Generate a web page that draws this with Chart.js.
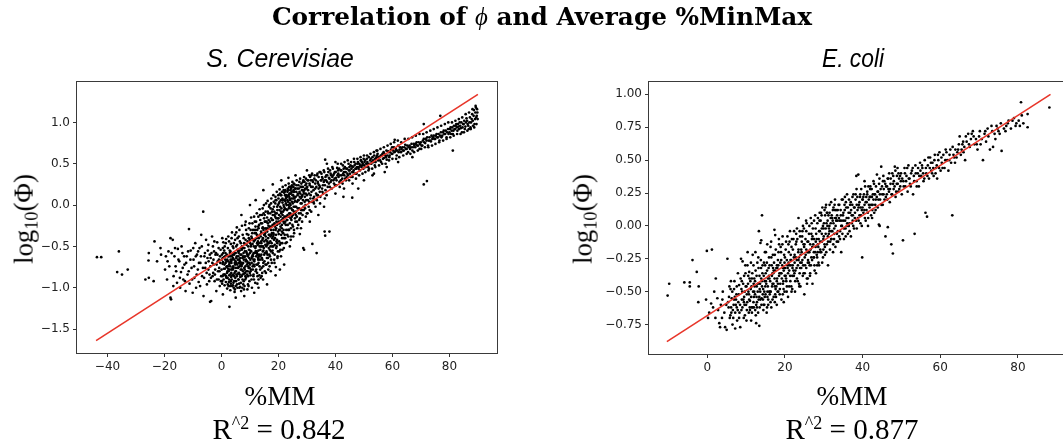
<!DOCTYPE html>
<html><head><meta charset="utf-8">
<script src="https://cdn.jsdelivr.net/npm/chart.js@4.4.1/dist/chart.umd.min.js"></script>
<style>
html,body{margin:0;padding:0;background:#fff;width:1063px;height:445px;overflow:hidden;position:relative}
.cv{position:absolute;top:0}
.t{position:absolute;white-space:nowrap;line-height:1.15;color:#000;transform:translate(-50%,-50%)}
.serif{font-family:"Liberation Serif","Times New Roman",serif}
.sub{font-family:"Liberation Sans Narrow","Liberation Sans",sans-serif;font-style:italic}
sup{font-size:62%;vertical-align:0.55em;line-height:0}
sub{font-size:68%;vertical-align:-0.3em;line-height:0}
</style></head><body>
<canvas id="c1" class="cv" width="530" height="445" style="left:0px"></canvas>
<canvas id="c2" class="cv" width="530" height="445" style="left:560px"></canvas>

<div class="t" style="left:542px;top:17px;font-family:'DejaVu Serif',serif;font-weight:bold" data-w="540">Correlation of <span style="font-family:'Liberation Serif',serif;font-weight:normal;font-style:italic">ϕ</span> and Average %MinMax</div>
<div class="t sub" style="left:280px;top:58px" data-w="148" data-fs="25">S. Cerevisiae</div>
<div class="t sub" style="left:853px;top:58px" data-w="62" data-fs="25">E. coli</div>
<div class="t serif" style="left:24px;top:219px" data-w="90" data-rot="1">log<sub>10</sub>(Φ)</div>
<div class="t serif" style="left:583px;top:219px" data-w="90" data-rot="1">log<sub>10</sub>(Φ)</div>
<div class="t serif" style="left:280px;top:397px" data-w="71">%MM</div>
<div class="t serif" style="left:852px;top:397px" data-w="71">%MM</div>
<div class="t serif" style="left:279px;top:430px" data-w="133">R<sup>^2</sup> = 0.842</div>
<div class="t serif" style="left:852px;top:430px" data-w="133">R<sup>^2</sup> = 0.877</div>

<script>
// ---------- DATA ----------
const yeastXTicks = [-40, -20, 0, 20, 40, 60, 80];
const yeastYTicks = [-1.5, -1.0, -0.5, 0.0, 0.5, 1.0];
const ecoliXTicks = [0, 20, 40, 60, 80];
const ecoliYTicks = [-0.75, -0.5, -0.25, 0.0, 0.25, 0.5, 0.75, 1.0];

const yeastFit = [[-44, -1.64], [90, 1.34]];
const ecoliFit = [[-10.4, -0.88], [88.4, 1.0]];

const yeastPoints = [
[-43.7,-0.63],[-42.2,-0.63],[-36,-0.56],[-36.6,-0.81],[-34.9,-0.84],[-32.9,-0.78],
[-26.7,-0.9],[-25.5,-0.88],[-23.8,-0.92],[-25.5,-0.58],[-25.6,-0.67],[-23.5,-0.44],
[-22.6,-0.68],[-21.2,-0.6],[-21.4,-0.52],[-19.8,-0.78],[-18.9,-0.68],[-18.6,-0.56],
[-17.9,-0.4],[-17.1,-0.42],[-17.9,-1.12],[-17.7,-1.14],[-16.8,-0.86],[-16.5,-0.62],
[-16.1,-0.74],[-15.6,-0.94],[-15.3,-0.53],[-14.8,-0.68],[-14.5,-1.0],[-14.2,-0.81],
[-13.7,-0.58],[-13.4,-0.9],[-13,-0.72],[-12.6,-1.04],[-12.2,-0.62],[-11.9,-0.84],
[-11.4,-0.29],[-11.2,-0.95],[-10.8,-0.55],[-10.5,-0.76],[-10.1,-1.06],[-9.8,-0.66],
[-9.5,-0.88],[-9.2,-0.46],[-8.9,-1.0],[-8.6,-0.6],[-8.3,-0.78],[-8,-0.93],[-7.7,-0.52],
[-7.4,-0.7],[-7.1,-0.36],[-6.8,-0.86],[-6.4,-0.08],[-6.3,-1.1],[-6,-0.62],[-5.7,-0.76],
[-5.4,-0.42],[-5.1,-0.96],[-4.8,-0.55],[-4.5,-0.68],[-4.2,-0.84],[-4,-1.17],[-3.6,-1.16],
[-3.3,-0.38],[-3,-0.5],[-2.7,-0.72],[-2.4,-0.92],[-2.1,-0.6],[-1.8,-1.04],[-1.5,-0.45],
[-1.2,-0.8],[-0.9,-0.66],[-0.6,-0.98],[-0.3,-0.54],[-2.9,-0.82],[-1.0,-0.9],[-3.8,-0.64],
[0.2,-0.92],[0.4,-0.71],[0.5,-0.52],[0.7,-0.84],[0.9,-0.63],[0.3,-0.4],[1.1,-0.97],[1.2,-0.77],[1.4,-0.58],[1.5,-0.46],[1.7,-0.88],[1.8,-0.68],
[2.0,-1.01],[2.1,-0.8],[2.3,-0.62],[2.4,-0.38],[2.6,-0.93],[2.7,-0.72],[2.9,-0.55],[3.0,-0.84],[3.1,-1.03],[3.2,-0.66],[3.3,-0.47],[3.5,-0.78],[3.6,-0.9],[3.7,-0.33],[3.9,-0.6],
[4.0,-0.97],[4.1,-0.74],[4.2,-0.52],[4.4,-0.86],[4.5,-0.66],[4.6,-1.05],[4.8,-0.42],[4.9,-0.8],[5.0,-0.58],[5.1,-0.92],[5.3,-0.7],[5.4,-0.27],[5.5,-0.48],[5.6,-1.0],[5.8,-0.83],[5.9,-0.62],
[6.0,-0.75],[6.1,-0.38],[6.2,-0.95],[6.4,-0.55],[6.5,-0.68],[6.6,-0.87],[6.8,-0.46],[6.9,-1.04],[7.0,-0.6],[7.1,-0.78],[7.2,-0.25],[7.4,-0.9],[7.5,-0.52],[7.6,-0.7],[7.8,-0.4],[7.9,-0.83],
[8.0,-0.63],[8.1,-0.98],[8.2,-0.47],[8.4,-0.74],[8.5,-0.2],[8.6,-0.88],[8.7,-0.56],[8.9,-0.35],[9.0,-0.68],[9.1,-1.02],[9.2,-0.8],[9.4,-0.5],[9.5,-0.6],[9.6,-0.28],[9.8,-0.92],[9.9,-0.42],
[10.0,-0.72],[10.1,-0.55],[10.2,-0.85],[10.4,-0.15],[10.5,-0.38],[10.6,-0.64],[10.7,-1.0],[10.9,-0.47],[11.0,-0.78],[11.1,-0.3],[11.3,-0.58],[11.4,-0.9],[11.5,-0.68],[11.7,-0.2],[11.8,-0.42],[11.9,-0.52],
[12.0,-0.8],[12.1,-0.34],[12.2,-0.62],[12.4,-0.1],[12.5,-0.46],[12.6,-0.95],[12.7,-0.72],[12.9,-0.26],[13.0,-0.55],[13.1,-0.4],[13.3,-0.85],[13.4,-0.05],[13.5,-0.66],[13.6,-0.18],[13.8,-0.5],[13.9,-0.32],
[14.0,-0.6],[14.1,-0.76],[14.2,-0.12],[14.4,-0.42],[14.5,-0.27],[14.6,-0.9],[14.7,-0.55],[14.9,0.0],[15.0,-0.36],[15.1,-0.68],[15.2,-0.2],[15.4,-0.48],[15.5,-0.08],[15.6,-0.82],[15.8,-0.3],[15.9,-0.58],
[16.0,-0.15],[16.1,-0.44],[16.2,0.05],[16.4,-0.7],[16.5,-0.25],[16.6,-0.52],[16.7,-0.02],[16.9,-0.36],[17.0,-0.62],[17.1,-0.1],[17.3,-0.8],[17.4,-0.3],[17.5,0.08],[17.6,-0.46],[17.8,-0.18],[17.9,-0.55],
[18.0,-0.05],[18.1,-0.38],[18.2,0.12],[18.4,-0.24],[18.5,-0.66],[18.6,-0.12],[18.7,-0.48],[18.9,0.02],[19.0,-0.3],[19.1,-0.75],[19.2,-0.16],[19.4,0.16],[19.5,-0.42],[19.6,-0.06],[19.8,-0.56],[19.9,-0.22],
[20.0,0.08],[20.1,-0.35],[20.2,-0.12],[20.4,0.19],[20.5,-0.48],[20.6,-0.02],[20.7,-0.26],[20.9,-0.62],[21.0,0.12],[21.1,-0.18],[21.3,-0.4],[21.4,0.03],[21.5,0.22],[21.6,-0.08],[21.8,-0.3],[21.9,-0.52],
[22.0,0.15],[22.1,-0.14],[22.2,-0.36],[22.4,0.05],[22.5,0.24],[22.6,-0.24],[22.7,-0.05],[22.9,-0.45],[23.0,0.1],[23.1,-0.18],[23.3,0.2],[23.4,-0.3],[23.5,0.0],[23.6,0.26],[23.8,-0.1],[23.9,0.14],
[24.0,-0.22],[24.1,0.06],[24.2,0.22],[24.4,-0.38],[24.5,-0.04],[24.6,0.16],[24.7,-0.14],[24.9,0.28],[25.0,0.02],[25.1,-0.26],[25.3,0.18],[25.4,-0.08],[25.5,0.1],[25.6,0.25],[25.8,-0.16],[25.9,0.05],
[26.0,0.2],[26.2,-0.02],[26.4,0.3],[26.5,-0.2],[26.7,0.12],[26.9,0.06],[27.0,0.24],[27.2,-0.1],[27.4,0.16],[27.6,0.32],[27.8,0.02],[27.9,-0.28],
[28.0,0.22],[28.2,0.1],[28.4,-0.06],[28.6,0.28],[28.8,0.16],[29.0,0.34],[29.2,0.04],[29.4,0.2],[29.6,-0.14],[29.8,0.26],
[30.0,0.12],[30.2,0.3],[30.4,0.18],[30.6,-0.02],[30.8,0.36],[31.0,0.24],[31.2,0.08],[31.4,0.3],[31.6,0.16],[31.8,0.38],
[32.0,0.22],[32.3,0.04],[32.6,0.32],[32.9,0.26],[33.2,0.14],[33.5,0.36],[33.8,0.28],[34.1,0.2],[34.4,0.4],[34.7,0.1],[35.0,0.3],[35.3,0.34],
[35.6,0.24],[35.9,0.42],[36.2,0.3],[36.5,0.18],[36.8,0.36],[37.1,0.28],[37.4,0.44],[37.7,0.33],[38.0,0.22],[38.3,0.38],[38.6,0.3],[38.9,0.46],[39.2,0.36],[39.5,0.26],[39.8,0.4],
[40.2,0.33],[40.6,0.45],[41.0,0.38],[41.4,0.28],[41.8,0.42],[42.2,0.36],[42.6,0.48],[43.0,0.4],[43.4,0.32],[43.8,0.44],[44.2,0.38],[44.6,0.5],
[45.0,0.42],[45.4,0.34],[45.8,0.47],[46.2,0.4],[46.6,0.52],[47.0,0.44],[47.4,0.38],[47.8,0.5],[48.2,0.46],[48.6,0.42],[49.0,0.54],[49.4,0.48],[49.8,0.44],
[50.2,0.52],[50.6,0.46],[51.0,0.56],[51.4,0.5],[51.8,0.44],[52.2,0.54],[52.6,0.5],[53.0,0.58],[53.4,0.52],[53.8,0.48],[54.2,0.56],[54.6,0.6],
[55.0,0.54],[55.5,0.58],[56.0,0.52],[56.5,0.62],[57.0,0.57],[57.5,0.6],[58.0,0.55],[58.5,0.65],[59.0,0.6],[59.5,0.67],
[60.0,0.62],[60.5,0.7],[61.0,0.65],[61.5,0.6],[62.0,0.72],[62.5,0.67],[63.0,0.64],[63.5,0.7],[64.0,0.66],[64.5,0.73],
[65.0,0.68],[65.5,0.64],[66.0,0.72],[66.5,0.7],[67.0,0.66],[67.5,0.74],[68.0,0.7],[68.5,0.76],[69.0,0.72],[69.5,0.68],
[70.0,0.76],[70.5,0.72],[71.0,0.8],[71.5,0.75],[72.0,0.78],[72.5,0.72],[73.0,0.82],[73.5,0.77],[74.0,0.8],[74.5,0.84],
[75.0,0.8],[75.5,0.86],[76.0,0.82],[76.5,0.78],[77.0,0.88],[77.5,0.84],[78.0,0.9],[78.5,0.86],[79.0,0.82],[79.5,0.92],
[80.0,0.88],[80.4,0.94],[80.8,0.9],[81.2,0.86],[81.6,0.96],[82.0,0.92],[82.4,0.98],[82.8,0.9],[83.2,0.95],[83.6,1.0],[84.0,0.93],[84.4,0.88],[84.8,0.98],
[85.2,1.02],[85.6,0.95],[86.0,1.05],[86.4,0.98],[86.8,0.92],[87.2,1.06],[87.6,1.0],[88.0,1.1],[88.3,0.96],[88.6,1.15],[89.0,1.04],[89.3,1.18],[89.6,1.08],[89.8,1.12],
[71,0.25],[72.1,0.29],[81.2,0.66],[71,0.98],[76.8,1.08],[36.2,-0.32],[37.9,-0.32],[36.4,-0.37],[31.9,-0.47],[29,-0.54],[33.4,-0.58],
[48,0.2],[42.8,0.1],[45.9,0.09],[57.3,0.4],[53,0.36],[60.8,0.79],[54.4,0.66],[36.4,0.55],[37,0.5],[40,0.52],[14.7,0.18],
[28.7,-0.52],[25.2,-0.38],[24,-0.5],[27.5,-0.35],[31,-0.2],[34,-0.12],[36,-0.02],[40,0.14],[43,0.2],[46,0.26],[50,0.3],
[53.5,0.38],[58,0.46],[62,0.52],[67,0.58],[2.8,-1.23],[0.5,-1.08],[5,-1.12],[8,-1.1],[11.5,-1.06],[13,-1.0],[16,-0.96],
[19,-0.85],[22,-0.72],[20.5,-0.78],[10,0.0],[7,-0.12],[12,0.06],[18,0.25],[21,0.3],[23.5,0.33],[26,0.36],[30,0.42]
];

const yeastDense = [
[0.05,-0.78],[0.15,-0.6],[0.35,-0.86],[0.55,-0.69],[0.65,-0.45],[0.85,-0.77],[0.95,-0.55],[0.25,-0.95],[0.75,-0.9],[0.45,-0.64],
[1.05,-0.72],[1.15,-0.5],[1.25,-0.84],[1.35,-0.66],[1.55,-0.93],[1.65,-0.41],[1.75,-0.75],[1.85,-0.6],[1.95,-0.82],[1.45,-0.7],
[2.05,-0.66],[2.15,-0.88],[2.25,-0.52],[2.35,-0.77],[2.45,-0.98],[2.55,-0.62],[2.65,-0.44],[2.75,-0.85],[2.85,-0.7],[2.95,-0.58],[2.5,-0.8],
[3.05,-0.74],[3.15,-0.56],[3.25,-0.92],[3.35,-0.68],[3.45,-0.82],[3.55,-0.4],[3.65,-0.62],[3.75,-0.98],[3.85,-0.76],[3.95,-0.5],[3.4,-0.87],
[4.05,-0.64],[4.15,-0.84],[4.25,-0.76],[4.35,-0.46],[4.45,-0.92],[4.55,-0.58],[4.65,-0.7],[4.75,-0.36],[4.85,-0.88],[4.95,-0.68],[4.3,-1.0],
[5.05,-0.76],[5.15,-0.5],[5.25,-0.84],[5.35,-0.62],[5.45,-0.96],[5.55,-0.72],[5.65,-0.4],[5.75,-0.66],[5.85,-0.56],[5.95,-0.9],[5.2,-0.33],
[6.05,-0.58],[6.15,-0.82],[6.25,-0.66],[6.35,-0.74],[6.45,-0.44],[6.55,-0.99],[6.65,-0.6],[6.75,-0.78],[6.85,-0.52],[6.95,-0.7],[6.3,-0.3],
[7.05,-0.86],[7.15,-0.54],[7.25,-0.72],[7.35,-0.64],[7.45,-0.36],[7.55,-0.8],[7.65,-0.96],[7.75,-0.58],[7.85,-0.66],[7.95,-0.46],[7.3,-1.0],
[8.05,-0.52],[8.15,-0.78],[8.25,-0.62],[8.35,-0.9],[8.45,-0.42],[8.55,-0.68],[8.65,-0.3],[8.75,-0.8],[8.85,-0.58],[8.95,-0.72],[8.3,-0.24],
[9.05,-0.6],[9.15,-0.44],[9.25,-0.7],[9.35,-0.86],[9.45,-0.36],[9.55,-0.76],[9.65,-0.54],[9.75,-0.64],[9.85,-0.22],[9.95,-0.82],[9.3,-0.96],
[10.05,-0.46],[10.15,-0.66],[10.25,-0.3],[10.35,-0.78],[10.45,-0.56],[10.55,-0.9],[10.65,-0.4],[10.75,-0.62],[10.85,-0.22],[10.95,-0.74],[10.3,-0.5],
[11.05,-0.62],[11.15,-0.42],[11.25,-0.84],[11.35,-0.5],[11.45,-0.14],[11.55,-0.74],[11.65,-0.34],[11.75,-0.58],[11.85,-0.94],[11.95,-0.26],[11.2,-0.66],
[12.05,-0.5],[12.15,-0.2],[12.25,-0.72],[12.35,-0.4],[12.45,-0.58],[12.55,-0.3],[12.65,-0.86],[12.75,-0.48],[12.85,-0.64],[12.95,-0.14],[12.3,-0.56],
[13.05,-0.28],[13.15,-0.62],[13.25,-0.46],[13.35,-0.74],[13.45,-0.36],[13.55,-0.12],[13.65,-0.54],[13.75,-0.88],[13.85,-0.22],[13.95,-0.44],[13.2,-0.6],
[14.05,-0.34],[14.15,-0.5],[14.25,-0.22],[14.35,-0.66],[14.45,-0.04],[14.55,-0.4],[14.65,-0.74],[14.75,-0.3],[14.85,-0.52],[14.95,-0.16],[14.3,-0.82],
[15.05,-0.44],[15.15,-0.12],[15.25,-0.58],[15.35,-0.28],[15.45,-0.72],[15.55,-0.38],[15.65,0.02],[15.75,-0.5],[15.85,-0.2],[15.95,-0.64],[15.3,-0.34],
[16.05,-0.32],[16.15,-0.6],[16.25,-0.08],[16.35,-0.4],[16.45,-0.78],[16.55,-0.18],[16.65,-0.46],[16.75,-0.28],[16.85,0.0],[16.95,-0.54],[16.3,-0.22],
[17.05,-0.26],[17.15,-0.44],[17.25,-0.04],[17.35,-0.56],[17.45,-0.16],[17.55,-0.36],[17.65,-0.7],[17.75,-0.08],[17.85,-0.4],[17.95,-0.24],[17.2,-0.5],
[18.05,-0.18],[18.15,-0.5],[18.25,-0.3],[18.35,0.04],[18.45,-0.42],[18.55,-0.08],[18.65,-0.6],[18.75,-0.26],[18.85,-0.14],[18.95,0.1],[18.3,-0.36],
[19.05,-0.1],[19.15,-0.36],[19.25,0.06],[19.35,-0.5],[19.45,-0.24],[19.55,-0.02],[19.65,-0.64],[19.75,-0.16],[19.85,-0.32],[19.95,0.12],[19.3,-0.44],
[20.05,-0.2],[20.15,0.02],[20.25,-0.44],[20.35,-0.06],[20.45,-0.3],[20.55,0.14],[20.65,-0.54],[20.75,-0.14],[20.85,0.06],[20.95,-0.36],[20.3,-0.22],
[21.05,-0.04],[21.15,-0.28],[21.25,0.16],[21.35,-0.46],[21.45,-0.12],[21.55,0.06],[21.65,-0.34],[21.75,-0.2],[21.85,0.18],[21.95,-0.02],[21.2,-0.24],
[22.05,-0.22],[22.15,0.06],[22.25,-0.04],[22.35,-0.4],[22.45,0.18],[22.55,-0.14],[22.65,0.1],[22.75,-0.3],[22.85,0.0],[22.95,-0.18],[22.3,0.12],
[23.05,-0.06],[23.15,0.16],[23.25,-0.24],[23.35,0.04],[23.45,-0.38],[23.55,0.12],[23.65,-0.14],[23.75,0.22],[23.85,-0.02],[23.95,0.08],[23.2,-0.12],
[24.05,0.14],[24.15,-0.1],[24.25,0.0],[24.35,-0.28],[24.45,0.2],[24.55,-0.18],[24.65,0.08],[24.75,0.24],[24.85,-0.06],[24.95,0.12],[24.3,-0.16],
[25.05,-0.12],[25.15,0.12],[25.25,0.22],[25.35,-0.02],[25.45,-0.3],[25.55,0.16],[25.65,0.04],[25.75,-0.1],[25.85,0.2],[25.95,-0.2],[25.2,0.08],
[26.05,0.1],[26.15,-0.08],[26.25,0.16],[26.35,0.24],[26.45,-0.14],[26.55,0.04],[26.65,0.2],[26.75,-0.04],[26.85,0.14],[26.95,-0.24],
[27.05,0.06],[27.15,0.2],[27.25,-0.04],[27.35,0.28],[27.45,0.1],[27.55,-0.16],[27.65,0.14],[27.75,0.22],[27.85,0.08],[27.95,-0.06],
[28.05,0.26],[28.15,0.02],[28.25,0.18],[28.35,0.12],[28.45,-0.12],[28.55,0.22],[28.65,0.06],[28.75,0.3],[28.85,-0.02],[28.95,0.14],
[29.05,0.18],[29.15,0.28],[29.25,0.1],[29.35,-0.04],[29.45,0.24],[29.55,0.14],[29.65,0.32],[29.75,0.06],[29.85,0.2],[29.95,-0.1],
[30.1,0.22],[30.3,0.06],[30.5,0.3],[30.7,0.14],[30.9,0.26],[30.95,-0.06],
[31.1,0.34],[31.3,0.12],[31.5,0.22],[31.7,0.04],[31.9,0.3],[31.55,0.36],
[32.1,0.28],[32.3,0.18],[32.5,0.1],[32.7,0.36],[32.9,0.2],[32.45,0.02],
[33.1,0.3],[33.3,0.22],[33.5,0.12],[33.7,0.38],[33.9,0.26],[33.45,0.06],
[34.1,0.34],[34.3,0.24],[34.5,0.16],[34.7,0.4],[34.9,0.3],[34.55,0.22],
[35.1,0.38],[35.3,0.2],[35.5,0.32],[35.7,0.14],[35.9,0.28],
[36.1,0.4],[36.3,0.24],[36.5,0.34],[36.7,0.3],[36.9,0.12],
[37.1,0.36],[37.3,0.22],[37.5,0.4],[37.7,0.26],[37.9,0.32],
[38.1,0.42],[38.3,0.28],[38.5,0.36],[38.7,0.2],[38.9,0.34],
[39.1,0.44],[39.3,0.3],[39.5,0.38],[39.7,0.32],[39.9,0.24],
[40.1,0.4],[40.4,0.3],[40.7,0.36],[40.9,0.42],[41.1,0.34],[41.3,0.44],[41.6,0.36],[41.9,0.3],
[42.1,0.42],[42.4,0.32],[42.7,0.38],[42.9,0.44],[43.1,0.36],[43.3,0.46],[43.6,0.4],[43.9,0.34],
[44.1,0.44],[44.4,0.36],[44.7,0.42],[44.9,0.46],[45.1,0.38],[45.3,0.48],[45.6,0.44],[45.9,0.4],
[46.1,0.46],[46.4,0.42],[46.7,0.48],[46.9,0.38],[47.1,0.5],[47.3,0.44],[47.6,0.46],[47.9,0.52],
[48.1,0.44],[48.4,0.5],[48.7,0.48],[48.9,0.54],[49.1,0.46],[49.3,0.52],[49.6,0.5],[49.9,0.56],
[50.1,0.48],[50.4,0.54],[50.8,0.5],[51.2,0.52],[51.5,0.46],[51.7,0.58],[52.1,0.5],[52.4,0.56],[52.8,0.52],
[53.2,0.54],[53.6,0.6],[53.9,0.56],[54.1,0.52],[54.4,0.58],[54.8,0.62],[55.2,0.58],[55.7,0.54],[55.9,0.6],
[56.2,0.6],[56.7,0.56],[56.9,0.64],[57.2,0.62],[57.7,0.58],[57.9,0.66],[58.2,0.6],[58.7,0.64],[58.9,0.58],
[59.2,0.64],[59.7,0.62],[59.9,0.7],
[60.2,0.66],[60.7,0.64],[61.2,0.68],[61.7,0.66],[62.2,0.64],[62.7,0.7],[63.2,0.68],[63.7,0.66],[64.2,0.7],[64.7,0.68],
[65.2,0.72],[65.7,0.7],[66.2,0.68],[66.7,0.74],[67.2,0.7],[67.7,0.72],[68.2,0.74],[68.7,0.72],[69.2,0.76],[69.7,0.74],
[70.2,0.72],[70.7,0.78],[71.2,0.76],[71.7,0.8],[72.2,0.82],[72.7,0.78],[73.2,0.78],[73.7,0.84],[74.2,0.82],[74.7,0.8],
[75.2,0.84],[75.7,0.82],[76.2,0.86],[76.7,0.84],[77.2,0.82],[77.7,0.88],[78.2,0.86],[78.7,0.9],[79.2,0.88],[79.7,0.86],
[80.2,0.92],[80.6,0.86],[81.0,0.94],[81.4,0.9],[81.8,0.92],[82.2,0.96],[82.6,0.94],[83.0,0.98],[83.4,0.92],[83.8,0.96],
[84.2,1.0],[84.6,0.94],[85.0,0.98],[85.4,0.92],[85.8,1.0],[86.2,1.02],[86.6,0.96],[87.0,1.0],[87.4,0.94],[87.8,1.04],
[88.2,1.02],[88.5,1.08],[88.8,0.98],[89.1,1.12],[89.4,1.06],[89.7,1.16],
[-19.5,-0.62],[-19.1,-0.9],[-18.3,-0.74],[-17.5,-0.58],[-16.9,-0.98],[-16.3,-0.52],[-15.9,-0.8],[-15.1,-0.66],[-14.6,-0.88],[-14.0,-0.5],
[-13.6,-0.76],[-13.1,-0.62],[-12.8,-0.92],[-12.4,-0.7],[-11.7,-0.56],[-11.5,-0.8],[-10.9,-0.66],[-10.3,-0.9],[-9.9,-0.52],[-9.6,-0.74],
[-9.0,-0.62],[-8.7,-0.84],[-8.2,-0.56],[-7.9,-0.7],[-7.5,-0.98],[-7.2,-0.62],[-6.9,-0.5],[-6.5,-0.76],[-6.1,-0.88],[-5.8,-0.58],
[-5.5,-0.7],[-5.2,-0.82],[-4.9,-0.64],[-4.6,-0.48],[-4.3,-0.92],[-3.9,-0.74],[-3.5,-0.58],[-3.1,-0.86],[-2.8,-0.66],[-2.5,-0.44],
[-2.2,-0.78],[-1.9,-0.58],[-1.6,-0.9],[-1.3,-0.68],[-1.0,-0.52],[-0.7,-0.8],[-0.4,-0.7],[-0.1,-0.86]
];

const yeastExtra = [
[1.6,-0.86],[1.9,-0.74],[2.2,-0.96],[2.4,-0.68],[2.7,-0.9],[2.9,-0.78],[3.1,-0.62],[3.3,-0.95],[3.5,-0.7],[3.8,-0.85],
[4.0,-0.78],[4.2,-0.94],[4.4,-0.6],[4.6,-0.82],[4.8,-0.72],[5.0,-0.98],[5.2,-0.64],[5.4,-0.86],[5.6,-0.54],[5.8,-0.76],
[6.0,-0.9],[6.2,-0.7],[6.4,-0.84],[6.6,-0.64],[6.8,-0.94],[7.0,-0.74],[7.2,-0.5],[7.4,-0.84],[7.6,-0.62],[7.8,-0.92],
[8.0,-0.76],[8.2,-0.56],[8.4,-0.86],[8.6,-0.66],[8.8,-0.48],[9.0,-0.84],[9.2,-0.62],[9.4,-0.74],[9.6,-0.4],[9.8,-0.7],
[10.0,-0.58],[10.2,-0.8],[10.4,-0.48],[10.6,-0.7],[10.8,-0.34],[11.0,-0.6],[11.2,-0.86],[11.4,-0.44],[11.6,-0.66],[11.8,-0.3],
[12.0,-0.56],[12.2,-0.78],[12.4,-0.36],[12.6,-0.6],[12.8,-0.44],[13.0,-0.7],[13.2,-0.24],[13.4,-0.5],[13.6,-0.62],[13.8,-0.38],
[14.0,-0.46],[14.2,-0.64],[14.4,-0.28],[14.6,-0.5],[14.8,-0.1],[15.0,-0.6],[15.2,-0.36],[15.4,-0.2],[15.6,-0.42],[15.8,-0.56],
[16.0,-0.28],[16.2,-0.46],[16.4,-0.1],[16.6,-0.36],[16.8,-0.6],[17.0,-0.2],[17.2,-0.38],[17.4,0.02],[17.6,-0.26],[17.8,-0.5],
[18.0,-0.12],[18.2,-0.34],[18.4,-0.02],[18.6,-0.22],[18.8,-0.4],[19.0,0.06],[19.2,-0.28],[19.4,-0.1],[19.6,-0.46],[19.8,0.0],
[20.0,-0.16],[20.2,-0.3],[20.4,0.04],[20.6,-0.2],[20.8,0.12],[21.0,-0.1],[21.2,-0.32],[21.4,0.08],[21.6,-0.16],[21.8,0.0],
[22.0,-0.06],[22.2,0.16],[22.4,-0.2],[22.6,0.02],[22.8,0.12],[23.0,-0.14],[23.2,0.06],[23.4,0.18],[23.6,-0.04],[23.8,0.1],
[24.0,0.02],[24.2,-0.12],[24.4,0.14],[24.6,0.22],[24.8,0.04],[25.0,-0.06],[25.2,0.16],[25.4,0.26],[25.6,0.08],[25.8,-0.02],
[-4.6,-0.78],[-4.1,-0.6],[-3.7,-0.88],[-3.2,-0.7],[-2.6,-0.56],[-2.3,-0.84],[-1.7,-0.72],[-1.4,-0.6],[-0.8,-0.76],[-0.5,-0.62],
[-0.2,-0.92],[0.1,-0.66],[0.6,-0.58],[1.0,-0.84],[1.3,-0.62],
[40.3,0.24],[40.8,0.5],[41.5,0.22],[42.0,0.5],[42.5,0.26],[43.2,0.52],[43.7,0.3],[44.3,0.54],[44.8,0.3],[45.5,0.52],
[46.0,0.34],[46.5,0.56],[47.2,0.32],[47.7,0.56],[48.3,0.36],[48.8,0.58],[49.5,0.38],[50.0,0.6],[50.5,0.4],[51.1,0.6],
[51.6,0.42],[52.3,0.62],[52.9,0.44],[53.5,0.64],[54.0,0.46],[54.7,0.66],[55.3,0.48],[55.8,0.68],[56.4,0.5],[57.0,0.7],
[57.6,0.5],[58.3,0.72],[58.8,0.54],[59.4,0.74],[60.0,0.56],[60.6,0.76],[61.3,0.56],[61.9,0.78],[62.4,0.58],[63.1,0.76],
[63.8,0.6],[64.3,0.8],[65.0,0.62],[65.6,0.8],[66.3,0.62],[66.9,0.82],[67.6,0.64],[68.2,0.84],[68.9,0.66],[69.5,0.86],
[70.1,0.68],[70.8,0.86],[71.4,0.7],[72.0,0.88],[72.6,0.7],[73.3,0.9],[73.9,0.72],[74.5,0.92],[75.1,0.74],[75.8,0.94],
[76.4,0.76],[77.1,0.96],[77.8,0.78],[78.4,0.98],[79.0,0.8],[79.6,1.0],[80.3,0.82],[80.9,1.0],[81.5,0.84],[82.1,1.02],
[82.7,0.86],[83.3,1.04],[83.9,0.86],[84.5,1.06],[85.1,0.88],[85.7,1.1],[86.3,0.9],[86.9,1.12],[87.5,0.92],[88.1,1.16],
[88.7,0.94],[89.2,1.2],[89.5,0.98],[89.9,1.04],
[12.5,-0.82],[13.0,-0.9],[13.6,-0.78],[14.1,-0.86],[14.7,-0.7],[15.2,-0.8],[15.8,-0.72],[16.3,-0.64],[16.9,-0.74],[17.4,-0.66],
[18.0,-0.58],[18.6,-0.7],[19.2,-0.52],[19.7,-0.62],[20.3,-0.56],[20.8,-0.46],[21.4,-0.54],[21.9,-0.4],[22.5,-0.46],[23.1,-0.36],
[23.7,-0.3],[24.3,-0.42],[24.9,-0.24],[25.5,-0.34],[26.1,-0.12],[26.6,-0.28],[27.3,-0.18],[27.8,-0.1],[28.3,-0.2],[28.9,-0.06],
[29.5,0.0],[30.2,-0.1],[30.8,0.04],[31.5,-0.08],[32.2,0.08],[33.0,-0.02],[33.8,0.12],[34.6,0.02],[35.4,0.16],[36.3,0.08],
[2.2,-0.74],[3.7,-0.66],[5.1,-0.8],[6.7,-0.72],[8.3,-0.82],[9.9,-0.76],[11.3,-0.72],[12.9,-0.66],[14.5,-0.56],[16.1,-0.48],
[17.7,-0.34],[19.3,-0.2],[20.9,-0.08],[22.6,0.08],[24.2,0.18],[3.0,-0.98],[4.7,-1.02],[6.3,-1.0],[7.9,-1.02],[9.5,-0.98]
];

const ecoliPoints = [
[-10.2,-0.53],[-9.8,-0.44],[-5.9,-0.43],[-4.5,-0.43],[-4.5,-0.46],[-3.8,-0.26],[-2.7,-0.35],[-2.2,-0.46],[-2.3,-0.58],
[-0.1,-0.19],[1.2,-0.18],[5.2,-0.25],[2.2,-0.4],[-0.3,-0.56],[1,-0.59],[2.1,-0.7],[3.1,-0.74],[3.3,-0.77],[4.6,-0.77],
[5,-0.79],[0.5,-0.66],[1.5,-0.62],[0.2,-0.7],[2.6,-0.55],[3.5,-0.6],[4,-0.5],[4.4,-0.66],[3.8,-0.7],[1.8,-0.5],
[5.5,-0.62],[5.8,-0.7],[6,-0.48],[6.3,-0.55],[6.5,-0.75],[6.8,-0.6],[7,-0.42],[7.2,-0.66],[7.5,-0.52],[7.7,-0.72],
[8,-0.58],[8.2,-0.45],[8.5,-0.77],[8.7,-0.25],[8.8,-0.64],[9,-0.5],[9.1,-0.27],[9.3,-0.56],[9.5,-0.38],[9.7,-0.68],[9.9,-0.46],
[10.0,-0.6],[10.2,-0.52],[10.4,-0.2],[10.5,-0.44],[10.7,-0.66],[10.8,-0.35],[11,-0.57],[11.2,-0.48],[11.3,-0.72],[11.5,-0.4],[11.7,-0.62],[11.9,-0.3],
[12,-0.54],[12.2,-0.46],[12.4,-0.2],[12.5,-0.68],[12.7,-0.38],[12.8,-0.58],[13,-0.5],[13.2,-0.32],[13.3,-0.04],[13.4,-0.76],[13.5,-0.62],[13.6,-0.44],[13.7,-0.13],[13.8,-0.26],[13.9,-0.11],[14,-0.55],[14.1,0.08],
[14.2,-0.36],[14.4,-0.48],[14.5,-0.6],[14.6,-0.28],[14.8,-0.42],[15,-0.52],[15.1,-0.2],[15.3,-0.66],[15.4,-0.34],[15.6,-0.46],[15.7,-0.56],[15.9,-0.24],
[16,-0.4],[16.2,-0.5],[16.3,-0.16],[16.5,-0.62],[16.6,-0.3],[16.8,-0.44],[17,-0.36],[17.1,-0.54],[17.3,-0.03],[17.4,-0.22],[17.5,-0.07],[17.6,-0.48],[17.8,-0.32],[17.9,-0.6],
[18,-0.4],[18.2,-0.26],[18.3,-0.5],[18.5,-0.14],[18.6,-0.36],[18.8,-0.44],[19,-0.2],[19.1,-0.56],[19.3,-0.3],[19.4,-0.08],[19.6,-0.42],[19.7,-0.34],[19.9,-0.5],
[20,-0.24],[20.2,-0.38],[20.3,-0.12],[20.5,-0.46],[20.6,-0.3],[20.8,-0.54],[21,-0.2],[21.1,-0.34],[21.3,-0.04],[21.4,-0.42],[21.6,-0.26],[21.7,-0.16],[21.9,-0.48],
[22,-0.3],[22.2,-0.1],[22.3,-0.38],[22.5,-0.22],[22.6,-0.5],[22.8,-0.14],[23,-0.32],[23.1,-0.02],[23.3,-0.42],[23.5,0.06],[23.6,-0.24],[23.8,-0.36],[23.9,-0.08],
[24,-0.46],[24.2,-0.18],[24.3,-0.28],[24.5,-0.04],[24.6,-0.38],[24.8,-0.14],[25,-0.52],[25.1,-0.24],[25.3,-0.1],[25.5,-0.32],[25.6,0.02],[25.8,-0.2],[25.9,-0.4],
[26,-0.12],[26.2,-0.28],[26.3,0.0],[26.5,-0.36],[26.6,-0.18],[26.8,-0.06],[27,-0.26],[27.1,-0.44],[27.3,-0.14],[27.5,0.04],[27.6,-0.3],[27.8,-0.2],[27.9,-0.02],
[28,-0.36],[28.2,-0.1],[28.3,-0.24],[28.5,0.06],[28.6,-0.16],[28.8,-0.3],[29,-0.04],[29.1,-0.2],[29.3,0.1],[29.5,-0.12],[29.6,-0.28],[29.8,0.0],[29.9,-0.18],
[30,-0.08],[30.2,0.12],[30.3,-0.22],[30.5,-0.02],[30.6,0.16],[30.8,-0.14],[31,0.04],[31.1,-0.3],[31.3,-0.06],[31.5,0.1],[31.6,-0.18],[31.8,0.02],[31.9,0.18],
[32,-0.1],[32.2,0.06],[32.4,-0.2],[32.5,0.14],[32.7,-0.02],[32.9,0.2],[33,-0.16],[33.2,0.04],[33.4,-0.06],[33.6,0.12],[33.7,-0.12],[33.9,0.06],
[34,0.16],[34.2,-0.04],[34.4,0.08],[34.5,-0.2],[34.7,0.0],[34.9,0.2],[35,0.04],[35.2,-0.1],[35.4,0.12],[35.6,-0.02],[35.7,0.18],[35.9,0.06],
[36,0.24],[36.2,-0.06],[36.4,0.1],[36.6,0.02],[36.8,0.16],[37,-0.08],[37.2,0.08],[37.4,0.22],[37.6,0.0],[37.8,0.14],[38,0.06],
[38.2,0.2],[38.4,0.38],[38.5,-0.02],[38.7,0.12],[38.9,0.39],[39,0.04],[39.2,0.18],[39.4,0.24],[39.6,0.08],[39.8,0.0],[39.9,-0.24],
[40,0.14],[40.2,0.22],[40.5,0.34],[40.6,0.06],[40.8,0.18],[41,0.12],[41.2,0.26],[41.4,0.0],[41.6,0.2],[41.8,0.14],
[42,0.3],[42.2,0.08],[42.4,0.22],[42.6,0.16],[42.8,0.34],[43,0.1],[43.2,0.24],[43.4,0.2],[43.7,0.39],[43.9,0.14],
[44,0.26],[44.2,0.01],[44.4,0.0],[44.5,0.2],[44.8,0.45],[45,0.3],[45.2,0.16],[45.4,0.24],[45.6,0.34],[45.9,-0.08],
[46,0.22],[46.3,0.3],[46.5,-0.01],[46.6,0.36],[46.8,0.26],[47,0.18],[47.2,0.32],[47.4,-0.14],[47.6,0.24],[47.8,-0.21],[47.9,0.38],
[48,0.28],[48.3,0.45],[48.5,0.22],[48.8,0.32],[49,0.44],[49.2,0.26],[49.4,0.36],[49.7,0.3],[49.9,0.4],
[50.1,0.24],[50.4,-0.11],[50.5,0.34],[50.8,0.44],[51,0.3],[51.3,0.38],[51.6,0.26],[51.8,0.46],
[52.1,0.36],[52.4,0.3],[52.7,0.42],[53,0.24],[53.2,0.38],[53.4,-0.06],[53.6,0.46],[53.9,0.34],[54.2,0.4],[54.5,0.3],[54.8,0.48],
[55.1,0.38],[55.4,0.44],[55.7,0.34],[56,0.5],[56.2,0.1],[56.6,0.07],[56.4,0.4],[56.8,0.46],[57.1,0.36],[57.4,0.52],[57.7,0.42],
[58,0.48],[58.3,0.38],[58.6,0.54],[58.9,0.44],[59.2,0.36],[59.5,0.5],[59.8,0.56],[60.1,0.42],[60.4,0.48],[60.8,0.54],
[61.1,0.44],[61.4,0.58],[61.8,0.5],[62.1,0.42],[62.4,0.54],[62.8,0.48],[63.1,0.08],[63.2,0.6],[63.6,0.52],[63.9,0.58],
[64.2,0.52],[64.6,0.58],[65,0.68],[65.3,0.54],[65.7,0.62],[66,0.56],[66.4,0.5],[66.8,0.64],
[67.2,0.7],[67.6,0.6],[68.1,0.7],[68.4,0.72],[68.8,0.62],[69.2,0.66],[69.6,0.58],[70,0.68],[70.4,0.62],[71,0.5],
[71.4,0.7],[71.8,0.64],[72.2,0.74],[72.8,0.58],[73.2,0.76],[73.6,0.6],[74,0.7],[74.5,0.76],[75,0.72],[75.6,0.78],[75.8,0.57],
[76.4,0.74],[77,0.76],[77.6,0.8],[78.2,0.74],[79,0.82],[79.6,0.78],[80.2,0.8],[80.8,0.94],[80.5,0.76],[81,0.84],[81.4,0.78],
[82.5,0.85],[82.5,0.75],[88.1,0.9]
];

const ecoliDense = [
[5.35,-0.58],[5.7,-0.46],[5.95,-0.68],[6.15,-0.62],[6.45,-0.5],[6.7,-0.7],[6.9,-0.56],
[7.1,-0.54],[7.35,-0.6],[7.6,-0.46],[7.85,-0.64],[8.1,-0.52],[8.3,-0.66],[8.6,-0.4],[8.9,-0.56],[8.45,-0.6],
[9.05,-0.62],[9.25,-0.44],[9.45,-0.58],[9.65,-0.5],[9.85,-0.36],[9.4,-0.7],
[10.1,-0.46],[10.3,-0.58],[10.55,-0.38],[10.75,-0.52],[10.95,-0.62],[10.35,-0.3],
[11.1,-0.42],[11.3,-0.54],[11.45,-0.62],[11.6,-0.36],[11.8,-0.5],[11.95,-0.44],[11.25,-0.28],
[12.1,-0.4],[12.3,-0.52],[12.45,-0.34],[12.6,-0.6],[12.75,-0.46],[12.9,-0.28],[12.35,-0.64],
[13.05,-0.44],[13.25,-0.56],[13.45,-0.38],[13.65,-0.5],[13.85,-0.32],[13.95,-0.6],[13.15,-0.24],
[14.05,-0.42],[14.25,-0.3],[14.35,-0.56],[14.55,-0.38],[14.7,-0.5],[14.85,-0.2],[14.95,-0.46],[14.45,-0.64],
[15.05,-0.36],[15.2,-0.44],[15.35,-0.28],[15.5,-0.54],[15.65,-0.4],[15.8,-0.32],[15.95,-0.5],[15.45,-0.14],
[16.05,-0.3],[16.2,-0.42],[16.35,-0.5],[16.5,-0.24],[16.65,-0.38],[16.8,-0.56],[16.95,-0.32],[16.45,-0.12],
[17.05,-0.44],[17.2,-0.28],[17.35,-0.4],[17.5,-0.34],[17.65,-0.18],[17.8,-0.46],[17.95,-0.3],[17.4,-0.58],
[18.05,-0.32],[18.2,-0.44],[18.35,-0.2],[18.5,-0.38],[18.65,-0.52],[18.8,-0.28],[18.95,-0.36],[18.45,-0.1],
[19.05,-0.26],[19.2,-0.4],[19.35,-0.14],[19.5,-0.32],[19.65,-0.48],[19.8,-0.22],[19.95,-0.38],[19.45,-0.52],
[20.05,-0.32],[20.2,-0.18],[20.35,-0.42],[20.5,-0.26],[20.65,-0.08],[20.8,-0.36],[20.95,-0.28],[20.45,-0.5],
[21.05,-0.3],[21.2,-0.12],[21.35,-0.38],[21.5,-0.22],[21.65,-0.46],[21.8,-0.1],[21.95,-0.32],[21.45,-0.26],
[22.05,-0.18],[22.2,-0.34],[22.35,-0.04],[22.5,-0.28],[22.65,-0.42],[22.8,-0.24],[22.95,-0.12],[22.45,-0.36],
[23.05,-0.26],[23.2,-0.1],[23.35,-0.3],[23.5,-0.18],[23.65,-0.44],[23.8,-0.04],[23.95,-0.28],[23.45,-0.2],
[24.05,-0.22],[24.2,-0.32],[24.35,-0.12],[24.5,-0.26],[24.65,0.0],[24.8,-0.36],[24.95,-0.16],[24.45,-0.08],
[25.05,-0.14],[25.2,-0.3],[25.35,-0.22],[25.5,-0.04],[25.65,-0.4],[25.8,-0.12],[25.95,-0.26],[25.45,0.04],
[26.05,-0.2],[26.2,-0.06],[26.35,-0.3],[26.5,-0.14],[26.65,0.06],[26.8,-0.24],[26.95,-0.1],[26.45,-0.38],
[27.05,-0.16],[27.2,-0.02],[27.35,-0.24],[27.5,-0.1],[27.65,-0.34],[27.8,0.08],[27.95,-0.12],[27.45,-0.2],
[28.05,-0.06],[28.2,-0.22],[28.35,0.02],[28.5,-0.14],[28.65,-0.28],[28.8,-0.04],[28.95,0.1],[28.45,-0.2],
[29.05,-0.12],[29.2,0.04],[29.35,-0.2],[29.5,-0.06],[29.65,0.14],[29.8,-0.24],[29.95,-0.02],[29.45,0.08],
[30.05,0.02],[30.2,-0.14],[30.35,0.08],[30.5,-0.06],[30.65,-0.2],[30.8,0.1],[30.95,0.0],[30.45,0.14],
[31.05,-0.08],[31.2,0.08],[31.35,-0.02],[31.5,0.16],[31.65,-0.12],[31.8,0.06],[31.95,-0.04],[31.45,0.0],
[32.05,0.08],[32.2,-0.04],[32.35,0.12],[32.5,0.02],[32.65,-0.1],[32.8,0.16],[32.95,0.06],[32.45,-0.14],
[33.05,0.0],[33.2,0.12],[33.35,-0.12],[33.5,0.04],[33.65,-0.04],[33.8,0.16],[33.95,-0.08],[33.45,0.08],
[34.05,0.04],[34.2,-0.1],[34.35,0.12],[34.5,0.0],[34.65,0.2],[34.8,-0.06],[34.95,0.08],[34.45,0.04],
[35.05,0.1],[35.2,-0.02],[35.35,0.16],[35.5,0.04],[35.65,-0.08],[35.8,0.14],[35.95,0.0],[35.45,0.22],
[36.05,0.02],[36.2,0.14],[36.35,0.06],[36.5,0.2],[36.65,-0.04],[36.8,0.1],[36.95,0.18],[36.45,0.0],
[37.05,0.12],[37.2,0.02],[37.35,0.16],[37.5,0.08],[37.65,0.24],[37.8,-0.02],[37.95,0.14],[37.45,0.04],
[38.05,0.1],[38.2,0.24],[38.35,0.04],[38.5,0.16],[38.65,0.22],[38.8,0.06],[38.95,0.14],[38.45,0.28],
[39.05,0.16],[39.2,0.08],[39.35,0.22],[39.5,0.14],[39.65,0.28],[39.8,0.12],[39.95,0.2],[39.45,0.02],
[40.05,0.2],[40.2,0.1],[40.35,0.24],[40.5,0.16],[40.65,0.3],[40.8,0.04],[40.95,0.22],[40.45,0.12],
[41.05,0.18],[41.2,0.24],[41.35,0.1],[41.5,0.3],[41.65,0.16],[41.8,0.22],[41.95,0.28],[41.45,0.06],
[42.05,0.22],[42.2,0.16],[42.35,0.28],[42.5,0.12],[42.65,0.24],[42.8,0.2],[42.95,0.32],[42.45,0.06],
[43.05,0.24],[43.25,0.16],[43.45,0.3],[43.65,0.22],[43.85,0.26],[43.35,0.12],
[44.05,0.2],[44.25,0.32],[44.45,0.24],[44.65,0.28],[44.85,0.16],[44.35,0.36],
[45.05,0.24],[45.25,0.34],[45.45,0.28],[45.65,0.2],[45.85,0.32],[45.35,0.38],
[46.05,0.3],[46.25,0.24],[46.45,0.36],[46.65,0.28],[46.85,0.4],[46.35,0.2],
[47.05,0.28],[47.25,0.36],[47.45,0.24],[47.65,0.4],[47.85,0.32],
[48.05,0.34],[48.25,0.3],[48.45,0.42],[48.65,0.26],[48.85,0.38],
[49.05,0.32],[49.25,0.4],[49.45,0.28],[49.65,0.38],[49.85,0.34],
[50.2,0.36],[50.6,0.3],[50.9,0.4],[51.2,0.34],[51.5,0.44],[51.9,0.36],[52.2,0.32],[52.5,0.4],[52.9,0.44],
[53.3,0.34],[53.7,0.4],[53.95,0.3],[54.3,0.44],[54.6,0.38],[54.9,0.42],[55.3,0.46],[55.6,0.4],[55.9,0.36],
[56.3,0.44],[56.7,0.38],[56.95,0.52],[57.3,0.44],[57.6,0.48],[57.9,0.4],[58.2,0.44],[58.5,0.5],[58.8,0.4],
[59.1,0.46],[59.4,0.54],[59.7,0.44],
[60.3,0.52],[60.6,0.44],[61.3,0.5],[61.6,0.56],[62.3,0.5],[62.6,0.58],[63.4,0.54],[63.8,0.48],[64.4,0.56],[64.8,0.62],
[65.5,0.58],[65.9,0.64],[66.2,0.6],[66.6,0.68],[67.4,0.62],[67.9,0.66],[68.6,0.68],[69.4,0.62],[70.2,0.72],[70.7,0.66],
[71.6,0.72],[72.4,0.68],[73.4,0.72],[74.2,0.66],[74.8,0.74],[75.3,0.7],[76.8,0.72],[77.4,0.78],[78.6,0.8],[79.4,0.76]
];

const ecoliExtra = [
[10.6,-0.5],[11.0,-0.64],[11.4,-0.46],[11.9,-0.58],[12.3,-0.42],[12.7,-0.54],[13.1,-0.66],[13.5,-0.48],[13.9,-0.4],[14.3,-0.52],
[14.7,-0.6],[15.1,-0.42],[15.5,-0.5],[15.9,-0.38],[16.3,-0.58],[16.7,-0.46],[17.1,-0.34],[17.5,-0.52],[17.9,-0.42],[18.3,-0.3],
[18.7,-0.48],[19.1,-0.36],[19.5,-0.44],[19.9,-0.28],[20.3,-0.4],[20.7,-0.32],[21.1,-0.46],[21.5,-0.3],[21.9,-0.38],[22.3,-0.24],
[22.7,-0.34],[23.1,-0.4],[23.5,-0.26],[23.9,-0.32],[24.3,-0.2],[24.7,-0.3],[25.1,-0.36],[25.5,-0.18],[25.9,-0.28],[26.3,-0.2],
[26.7,-0.3],[27.1,-0.08],[27.5,-0.24],[27.9,-0.16],[28.3,-0.3],[28.7,-0.1],[29.1,-0.18],[29.5,-0.02],[29.9,-0.1],[30.3,-0.16],
[30.7,0.02],[31.1,-0.12],[31.5,-0.04],[31.9,-0.1],[32.3,0.04],[32.7,-0.06],[33.1,0.06],[6.6,-0.64],[7.4,-0.56],[8.8,-0.48],
[9.6,-0.6],[10.9,-0.4],[12.0,-0.62],[13.7,-0.56],[15.7,-0.6],[17.7,-0.54],[19.7,-0.58],[21.7,-0.5],[23.7,-0.46],[25.7,-0.44],
[14.9,-0.3],[16.9,-0.22],[18.9,-0.16],[20.9,-0.14],[22.9,-0.06],[24.9,-0.02],[26.9,0.02],[28.9,0.04],[30.9,0.1],[32.9,0.12],
[5.6,-0.54],[6.2,-0.66],[6.9,-0.48],[7.6,-0.62],[8.2,-0.7],[8.9,-0.42],[9.5,-0.54],[10.2,-0.64],[10.8,-0.56],[11.5,-0.66],
[12.1,-0.5],[12.8,-0.62],[13.4,-0.54],[14.1,-0.46],[14.8,-0.54],[15.4,-0.62],[16.1,-0.52],[16.8,-0.36],[17.4,-0.46],[18.1,-0.5],
[7.9,-0.36],[9.8,-0.3],[11.7,-0.22],[4.9,-0.6],[3.9,-0.56],[2.8,-0.64],[6.1,-0.42],[7.2,-0.78],[10.1,-0.72],[12.6,-0.74]
];

// ---------- RENDER ----------
function fmt(v, d) { return (v < 0 ? '\u2212' : '') + Math.abs(v).toFixed(d); }
const frame = { id: 'frame', afterDraw(c) {
  const a = c.chartArea, x = c.ctx; x.save(); x.strokeStyle = '#3a3a3a'; x.lineWidth = 1;
  x.strokeRect(Math.round(a.left) - 0.5, Math.round(a.top) - 0.5, Math.round(a.right - a.left) + 1, Math.round(a.bottom - a.top) + 1); x.restore(); } };

function makeChart(id, pts, fitLine, xr, yr, xt, yt, dec, yW, pad) {
  const tickFont = { family: 'DejaVu Sans', size: 12 };
  return new Chart(document.getElementById(id), {
    type: 'scatter',
    data: { datasets: [
      { type: 'line', data: fitLine.map(p => ({ x: p[0], y: p[1] })), borderColor: '#e8362a', borderWidth: 1.6, pointRadius: 0, fill: false, order: 0 },
      { data: pts.map(p => ({ x: p[0], y: p[1] })), backgroundColor: '#000', borderWidth: 0, pointRadius: 1.35, pointHoverRadius: 1.35, order: 1 }
    ] },
    options: {
      responsive: false, animation: false, devicePixelRatio: 1, events: [],
      layout: { padding: pad },
      plugins: { legend: { display: false }, tooltip: { enabled: false } },
      scales: {
        x: { type: 'linear', min: xr[0], max: xr[1],
          afterBuildTicks: s => { s.ticks = xt.map(v => ({ value: v })); },
          afterFit: s => { s.height = 30; },
          ticks: { font: tickFont, color: '#222', padding: 3, maxRotation: 0, autoSkip: false, callback: v => fmt(v, 0) },
          grid: { display: true, drawOnChartArea: false, drawTicks: true, tickLength: 4, color: '#333' },
          border: { display: false } },
        y: { type: 'linear', min: yr[0], max: yr[1],
          afterBuildTicks: s => { s.ticks = yt.map(v => ({ value: v })); },
          afterFit: s => { s.width = yW; },
          ticks: { font: tickFont, color: '#222', padding: 3, autoSkip: false, callback: v => fmt(v, dec) },
          grid: { display: true, drawOnChartArea: false, drawTicks: true, tickLength: 4, color: '#333' },
          border: { display: false } }
      }
    },
    plugins: [frame]
  });
}

makeChart('c1', yeastPoints.concat(yeastDense, yeastExtra), yeastFit, [-50.7, 96.7], [-1.789, 1.489], yeastXTicks, yeastYTicks, 1, 77,
  { top: 82, right: 33, bottom: 62, left: 0 });
makeChart('c2', ecoliPoints.concat(ecoliDense, ecoliExtra), ecoliFit, [-15.0, 92.9], [-0.974, 1.094], ecoliXTicks, ecoliYTicks, 2, 89,
  { top: 82, right: 22, bottom: 61, left: 0 });

// fit text sizes to the reference widths
document.querySelectorAll('.t').forEach(el => {
  if (el.dataset.fs) {
    el.style.fontSize = el.dataset.fs + 'px';
    const s = parseFloat(el.dataset.w) / el.offsetWidth;
    el.style.transform = 'translate(-50%,-50%) scaleX(' + s.toFixed(3) + ')';
    return;
  }
  el.style.fontSize = '100px';
  const w = el.offsetWidth;
  el.style.fontSize = (100 * parseFloat(el.dataset.w) / w).toFixed(2) + 'px';
  if (el.dataset.rot) el.style.transform = 'translate(-50%,-50%) rotate(-90deg)';
});
</script>
</body></html>
